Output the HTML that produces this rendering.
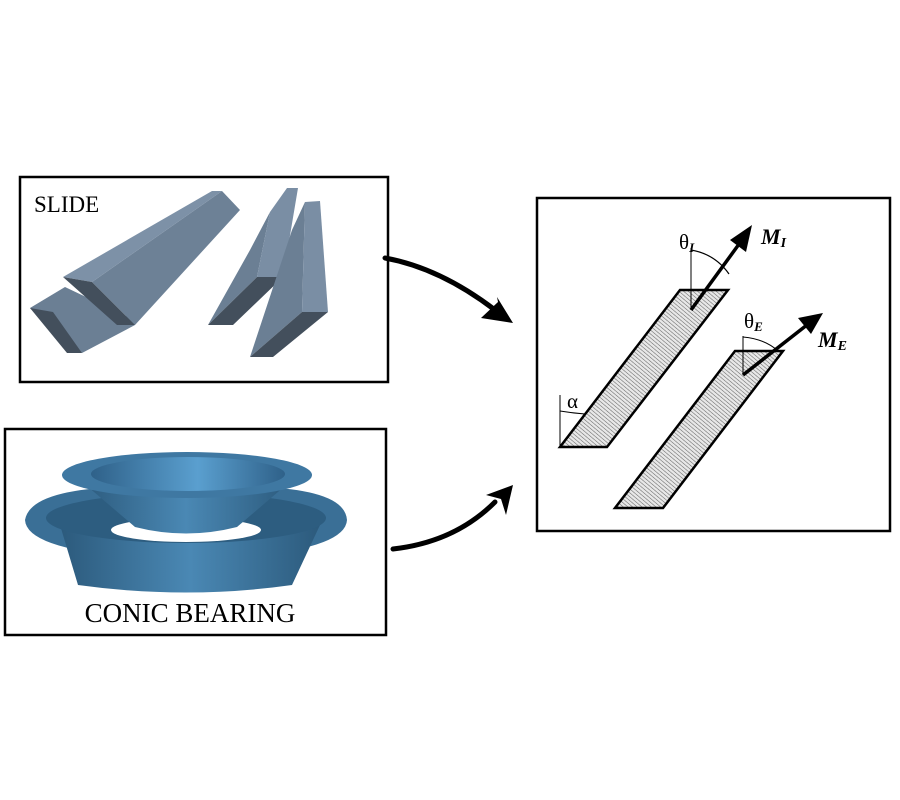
<!DOCTYPE html>
<html><head><style>html,body{margin:0;padding:0;background:#fff}svg{display:block}</style></head>
<body>
<svg width="900" height="800" viewBox="0 0 900 800" xmlns="http://www.w3.org/2000/svg">
<defs>
<pattern id="h" width="3" height="3" patternUnits="userSpaceOnUse" patternTransform="rotate(-50)">
<rect width="3" height="3" fill="#e8e8e8"/><line x1="0" y1="0" x2="0" y2="3" stroke="#666" stroke-width="1.1"/></pattern>
<linearGradient id="cone1" x1="0" x2="1"><stop offset="0" stop-color="#2c5a7c"/><stop offset="0.5" stop-color="#4a88b4"/><stop offset="1" stop-color="#2c5a7c"/></linearGradient>
<linearGradient id="in1" x1="0" x2="1"><stop offset="0" stop-color="#2f6189"/><stop offset="0.55" stop-color="#5a9fcf"/><stop offset="1" stop-color="#2f6189"/></linearGradient>
</defs>
<rect x="20" y="177" width="368" height="205" fill="none" stroke="#000" stroke-width="2.5"/>
<rect x="5" y="429" width="381" height="206" fill="none" stroke="#000" stroke-width="2.5"/>
<rect x="537" y="198" width="353" height="333" fill="none" stroke="#000" stroke-width="2.5"/>
<text x="34" y="212" font-family="Liberation Serif, serif" font-size="23">SLIDE</text>
<polygon points="30,308 65,287 130,318 135,325 82,353" fill="#6b7f94"/>
<polygon points="30,308 53,312 82,353 67,353" fill="#434f5c"/>
<polygon points="92,282 222,191 240,210 135,325" fill="#6d8196"/>
<polygon points="63,277 212,191 222,191 92,282" fill="#7d91a7"/>
<polygon points="63,277 92,282 135,325 117,325" fill="#434f5c"/>
<polygon points="208,325 257,277 270,212 250,250" fill="#6b7f94"/>
<polygon points="270,212 287,188 298,188 283,277 257,277" fill="#7a8ea4"/>
<polygon points="257,277 283,277 233,325 208,325" fill="#434f5c"/>
<polygon points="250,357 302,312 305,202 292,230" fill="#6b7f94"/>
<polygon points="305,202 320,201 328,312 302,312" fill="#7a8ea4"/>
<polygon points="302,312 328,312 273,357 250,357" fill="#434f5c"/>
<path d="M25,520 Q30,490 120,487 L260,487 Q345,490 347,520 Q345,555 186,560 Q27,555 25,520Z" fill="#3a6f96"/>
<path d="M60,525 L78,585 Q186,600 292,585 L320,525 Z" fill="url(#cone1)"/>
<ellipse cx="186" cy="518" rx="140" ry="25" fill="#2d5d80"/>
<ellipse cx="186" cy="530" rx="75" ry="12" fill="#fff"/>
<path d="M80,480 L135,527 Q186,540 237,527 L292,480Z" fill="url(#cone1)"/>
<ellipse cx="187" cy="475" rx="125" ry="23" fill="#3f78a2"/>
<ellipse cx="188" cy="474" rx="97" ry="17" fill="url(#in1)"/>
<text x="190" y="622" text-anchor="middle" font-family="Liberation Serif, serif" font-size="27">CONIC BEARING</text>
<path d="M385,258 Q440,268 495,310" fill="none" stroke="#000" stroke-width="5" stroke-linecap="round"/>
<polygon points="513,323 481,318 498,302 497,297" fill="#000"/>
<path d="M393,549 Q455,542 495,502" fill="none" stroke="#000" stroke-width="5" stroke-linecap="round"/>
<polygon points="513,485 486,495 501,499 506,515" fill="#000"/>
<polygon points="560,447 607,447 728,290 680,290" fill="url(#h)" stroke="#000" stroke-width="2.5"/>
<polygon points="615,508 663,508 783,351 735,351" fill="url(#h)" stroke="#000" stroke-width="2.5"/>
<line x1="560" y1="395" x2="560" y2="447" stroke="#000" stroke-width="1"/>
<path d="M560,411 Q572,413 585,414" fill="none" stroke="#000" stroke-width="1"/>
<text x="567" y="408" font-family="Liberation Serif, serif" font-size="21">α</text>
<line x1="691" y1="248" x2="691" y2="310" stroke="#000" stroke-width="1"/>
<path d="M691,250 Q715,254 729,274" fill="none" stroke="#000" stroke-width="1.2"/>
<line x1="691" y1="310" x2="742" y2="240" stroke="#000" stroke-width="3.5"/>
<polygon points="752,225 730,240 746,252" fill="#000"/>
<text x="679" y="249" font-family="Liberation Serif, serif" font-size="21">θ<tspan font-size="13" font-style="italic" font-weight="bold" dy="3">I</tspan></text>
<text x="761" y="244" font-family="Liberation Serif, serif" font-size="22" font-style="italic" font-weight="bold">M<tspan font-size="14" dy="3">I</tspan></text>
<line x1="743" y1="336" x2="743" y2="375" stroke="#000" stroke-width="1"/>
<path d="M743,337 Q765,339 778,351" fill="none" stroke="#000" stroke-width="1"/>
<line x1="743" y1="375" x2="812" y2="321" stroke="#000" stroke-width="3.5"/>
<polygon points="823,313 798,318 811,334" fill="#000"/>
<text x="744" y="328" font-family="Liberation Serif, serif" font-size="21">θ<tspan font-size="13" font-style="italic" font-weight="bold" dy="3">E</tspan></text>
<text x="818" y="347" font-family="Liberation Serif, serif" font-size="22" font-style="italic" font-weight="bold">M<tspan font-size="14" dy="3">E</tspan></text>
</svg>
</body></html>
